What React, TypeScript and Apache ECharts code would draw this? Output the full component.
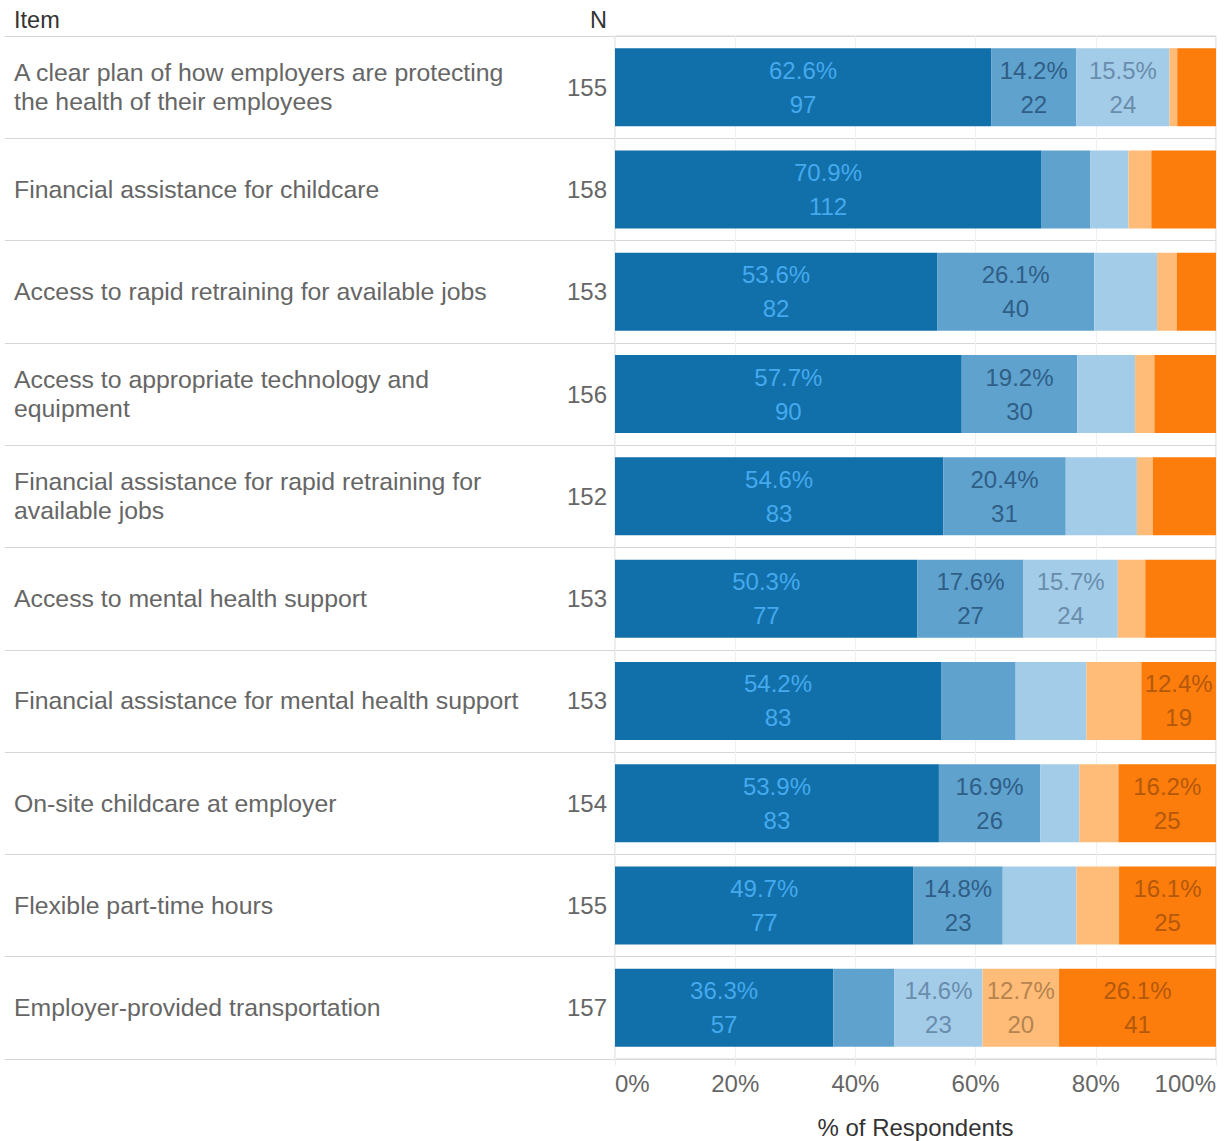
import React, { useEffect, useRef } from "react";
import * as echarts from "echarts";

const items = [
  "A clear plan of how employers are protecting\nthe health of their employees",
  "Financial assistance for childcare",
  "Access to rapid retraining for available jobs",
  "Access to appropriate technology and\nequipment",
  "Financial assistance for rapid retraining for\navailable jobs",
  "Access to mental health support",
  "Financial assistance for mental health support",
  "On-site childcare at employer",
  "Flexible part-time hours",
  "Employer-provided transportation",
];

const nValues = [155, 158, 153, 156, 152, 153, 153, 154, 155, 157];

const responseNames = [
  "Extremely helpful",
  "Very helpful",
  "Moderately helpful",
  "Slightly helpful",
  "Not helpful",
];

const countsLevel1 = [97, 112, 82, 90, 83, 77, 83, 83, 77, 57];
const countsLevel2 = [22, 13, 40, 30, 31, 27, 19, 26, 23, 16];
const countsLevel3 = [24, 10, 16, 15, 18, 24, 18, 10, 19, 23];
const countsLevel4 = [2, 6, 5, 5, 4, 7, 14, 10, 11, 20];
const countsLevel5 = [10, 17, 10, 16, 16, 18, 19, 25, 25, 41];

const labelShown1 = [1, 1, 1, 1, 1, 1, 1, 1, 1, 1];
const labelShown2 = [1, 0, 1, 1, 1, 1, 0, 1, 1, 0];
const labelShown3 = [1, 0, 0, 0, 0, 1, 0, 0, 0, 1];
const labelShown4 = [0, 0, 0, 0, 0, 0, 0, 0, 0, 1];
const labelShown5 = [0, 0, 0, 0, 0, 0, 1, 1, 1, 1];

const xTicks = [0, 20, 40, 60, 80, 100];

const barColors = ["#1170aa", "#5fa2ce", "#a3cce9", "#ffbc79", "#fc7d0b"];
const labelColors = ["#45a9ee", "#2f5e87", "#6a8dac", "#b5844f", "#b4580b"];

const FONT = "'Liberation Sans', Arial, Helvetica, sans-serif";

export default function App() {
  const ref = useRef<HTMLDivElement>(null);

  useEffect(() => {
    document.body.style.margin = "0";
    if (!ref.current) return;
    const chart = echarts.init(ref.current, undefined, { renderer: "svg" });

    const allCounts = [countsLevel1, countsLevel2, countsLevel3, countsLevel4, countsLevel5];
    const allShown = [labelShown1, labelShown2, labelShown3, labelShown4, labelShown5];

    const series = allCounts.map((counts, s) => ({
      name: responseNames[s],
      type: "bar",
      stack: "total",
      xAxisIndex: 1,
      yAxisIndex: 2,
      barWidth: 78,
      itemStyle: { color: barColors[s] },
      label: {
        position: "inside",
        color: labelColors[s],
        fontSize: 24,
        fontFamily: FONT,
        lineHeight: 34,
        align: "center",
        overflow: "none",
        formatter: (p: any) => {
          const c = counts[p.dataIndex];
          const pct = ((c / nValues[p.dataIndex]) * 100).toFixed(1);
          return pct + "%\n" + c;
        },
      },
      emphasis: { disabled: true },
      data: counts.map((c, i) => ({
        value: (c / nValues[i]) * 100,
        label: { show: allShown[s][i] === 1 },
      })),
    }));

    chart.setOption({
      animation: false,
      textStyle: { fontFamily: FONT },
      graphic: [
        {
          type: "text",
          left: 14,
          top: 8,
          style: { text: "Item", fontSize: 23.5, fontFamily: FONT, fill: "#333333" },
        },
        {
          type: "text",
          right: 1225 - 607,
          top: 8,
          style: { text: "N", fontSize: 23.5, fontFamily: FONT, fill: "#333333" },
        },
      ],
      grid: [
        { left: 5, width: 610, top: 36, bottom: 82, show: false, outerBoundsMode: "none", containLabel: false },
        {
          left: 615,
          right: 9,
          top: 36,
          bottom: 82,
          show: true,
          borderColor: "#d6d6d6",
          borderWidth: 1,
          backgroundColor: "transparent",
          outerBoundsMode: "none",
          containLabel: false,
        },
      ],
      xAxis: [
        { gridIndex: 0, type: "value", show: false, min: 0, max: 1 },
        {
          gridIndex: 1,
          type: "value",
          min: 0,
          max: 100,
          interval: 20,
          name: "% of Respondents",
          nameLocation: "middle",
          nameGap: 56,
          nameTextStyle: { fontSize: 24, color: "#333333", fontFamily: FONT },
          axisLine: { show: false },
          axisTick: { show: true, length: 6, lineStyle: { color: "#ececec" } },
          splitLine: { show: true, lineStyle: { color: "#f0f0f0", width: 1 } },
          axisLabel: {
            fontSize: 24,
            color: "#666666",
            fontFamily: FONT,
            margin: 12,
            alignMinLabel: "left",
            alignMaxLabel: "right",
            customValues: xTicks,
            formatter: (v: number) => v + "%",
          },
        },
      ],
      yAxis: [
        {
          gridIndex: 0,
          type: "category",
          inverse: true,
          data: items,
          position: "left",
          axisLine: { show: false },
          axisTick: { show: false },
          splitLine: { show: true, lineStyle: { color: "#d6d6d6", width: 1 } },
          axisLabel: {
            inside: true,
            margin: 9,
            align: "left",
            fontSize: 24.8,
            lineHeight: 29,
            color: "#666666",
            fontFamily: FONT,
            interval: 0,
          },
        },
        {
          gridIndex: 0,
          type: "category",
          inverse: true,
          data: items,
          position: "right",
          axisLine: { show: false },
          axisTick: { show: false },
          splitLine: { show: false },
          axisLabel: {
            inside: true,
            margin: 8,
            align: "right",
            fontSize: 24,
            color: "#666666",
            fontFamily: FONT,
            interval: 0,
            formatter: (_v: string, i: number) => String(nValues[i]),
          },
        },
        {
          gridIndex: 1,
          type: "category",
          inverse: true,
          data: items,
          axisLine: { show: false },
          axisTick: { show: false },
          axisLabel: { show: false },
          splitLine: { show: true, lineStyle: { color: "#d6d6d6", width: 1 } },
        },
      ],
      series,
    });

    return () => chart.dispose();
  }, []);

  return (
    <div
      ref={ref}
      style={{ position: "absolute", left: 0, top: 0, width: 1225, height: 1141 }}
    />
  );
}
